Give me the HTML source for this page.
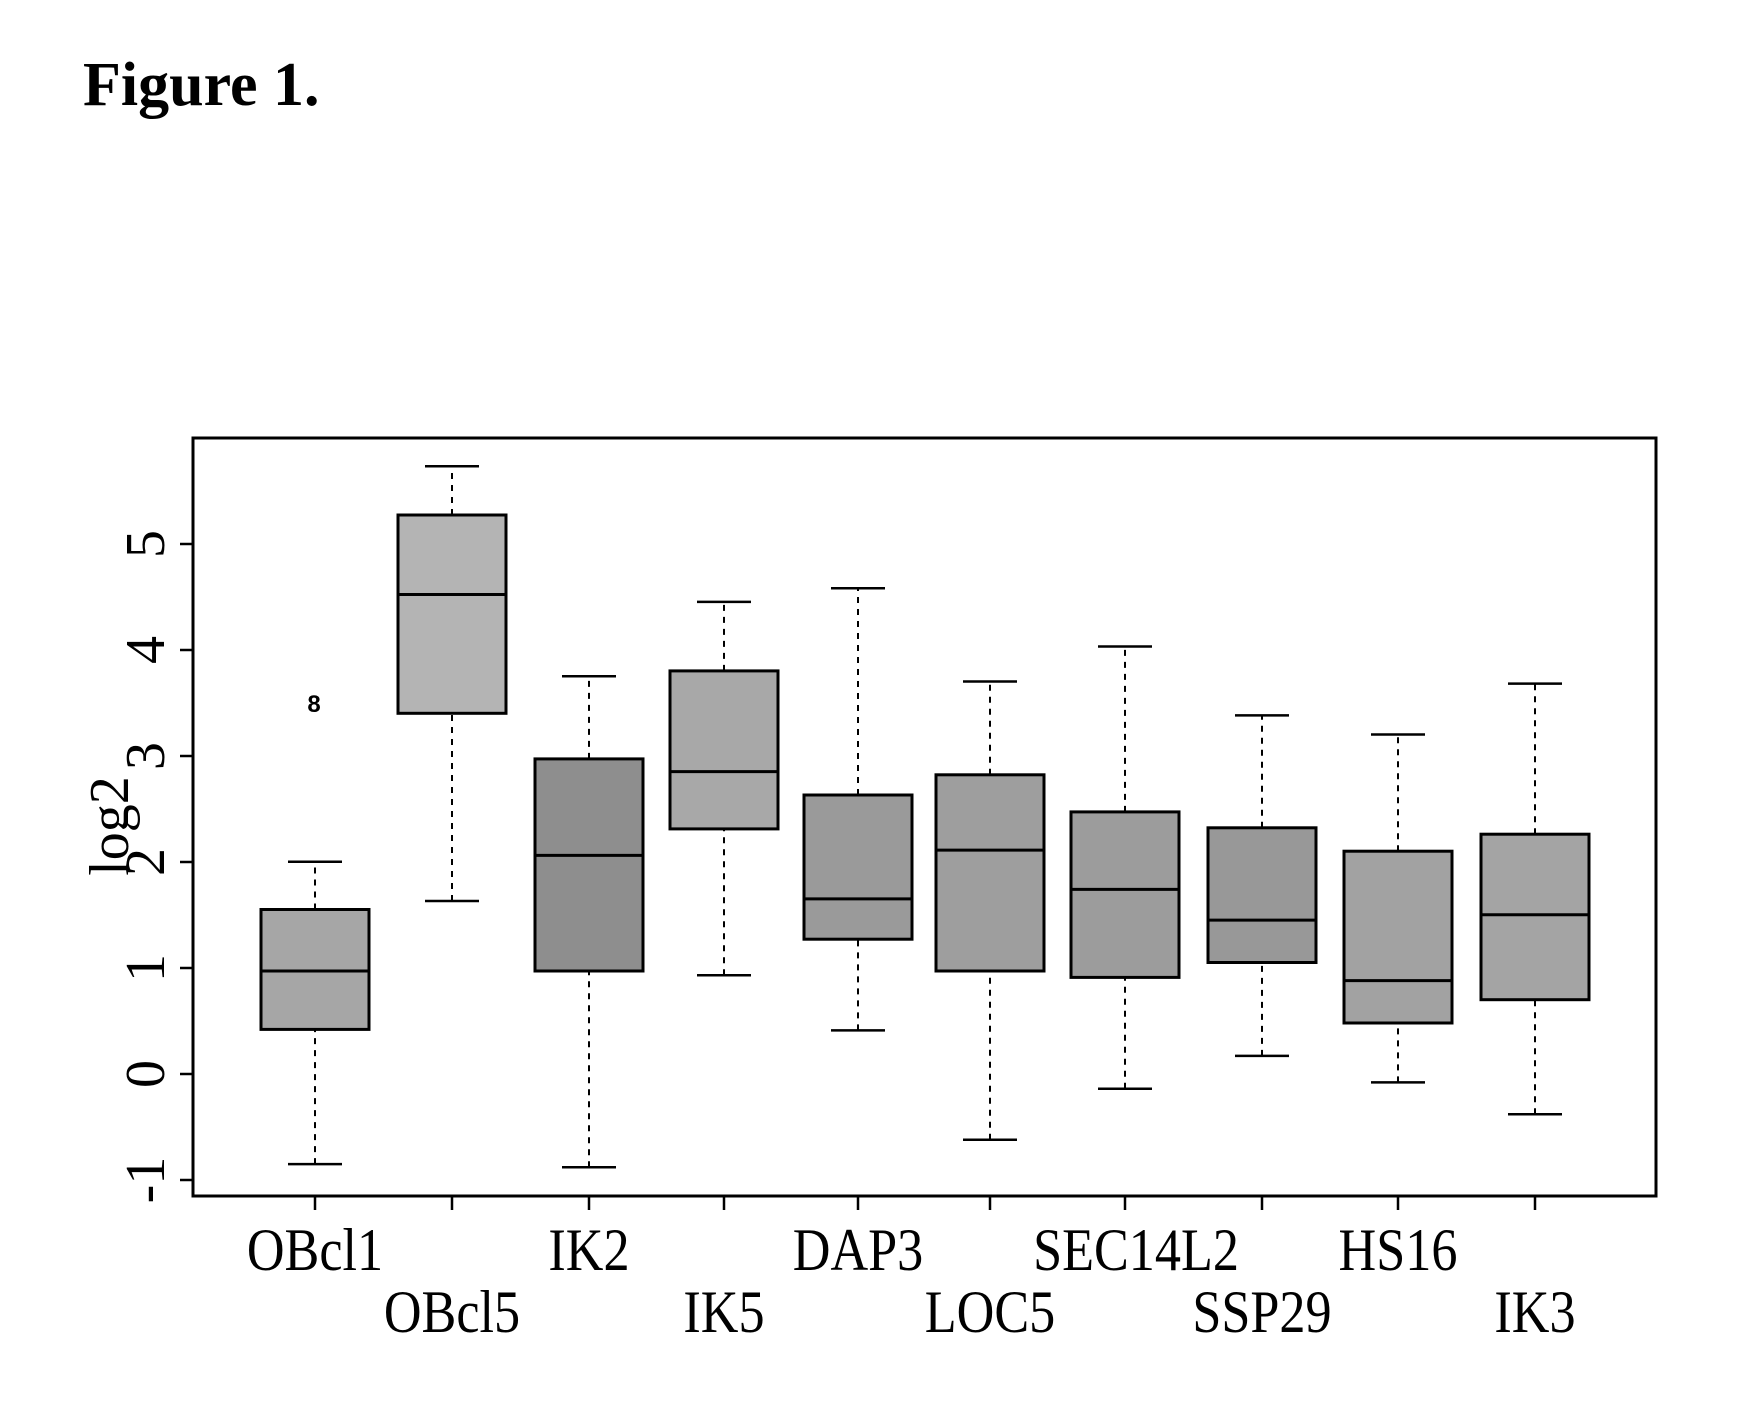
<!DOCTYPE html>
<html><head><meta charset="utf-8"><style>html,body{margin:0;padding:0;background:#fff}svg{display:block}</style></head>
<body>
<svg width="1745" height="1410" viewBox="0 0 1745 1410" xmlns="http://www.w3.org/2000/svg" font-family="'Liberation Serif', serif">
<text x="83" y="105" font-size="62" font-weight="bold">Figure 1.</text>
<rect x="193" y="438" width="1463" height="758" fill="none" stroke="#000" stroke-width="3"/>
<g stroke="#000" stroke-width="2.5">
<line x1="193" y1="1180" x2="193" y2="544"/>
<line x1="180" y1="1180" x2="193" y2="1180"/><line x1="180" y1="1074" x2="193" y2="1074"/><line x1="180" y1="968" x2="193" y2="968"/><line x1="180" y1="862" x2="193" y2="862"/><line x1="180" y1="756" x2="193" y2="756"/><line x1="180" y1="650" x2="193" y2="650"/><line x1="180" y1="544" x2="193" y2="544"/>
</g>
<g font-size="56" text-anchor="middle">
<text transform="translate(164,1180) rotate(-90)">-1</text>
<text transform="translate(164,1074) rotate(-90)">0</text>
<text transform="translate(164,968) rotate(-90)">1</text>
<text transform="translate(164,862) rotate(-90)">2</text>
<text transform="translate(164,756) rotate(-90)">3</text>
<text transform="translate(164,650) rotate(-90)">4</text>
<text transform="translate(164,544) rotate(-90)">5</text>
<text transform="translate(128,826) rotate(-90)">log2</text>
</g>
<text x="314" y="712" font-size="24" font-weight="bold" font-family="'Liberation Sans', sans-serif" text-anchor="middle">8</text>

<g stroke="#000">
<!-- whiskers (dashed) -->
<g stroke-width="2" stroke-dasharray="6,6">
<line x1="315" y1="1164.1" x2="315" y2="1029.4"/><line x1="315" y1="909.5" x2="315" y2="861.8"/>
<line x1="452" y1="901" x2="452" y2="713.3"/><line x1="452" y1="515" x2="452" y2="466.2"/>
<line x1="589" y1="1167.2" x2="589" y2="971"/><line x1="589" y1="758.9" x2="589" y2="676.2"/>
<line x1="724" y1="975.3" x2="724" y2="828.9"/><line x1="724" y1="670.9" x2="724" y2="601.9"/>
<line x1="858" y1="1030.4" x2="858" y2="939.2"/><line x1="858" y1="795" x2="858" y2="588.2"/>
<line x1="990" y1="1139.7" x2="990" y2="971"/><line x1="990" y1="774.8" x2="990" y2="681.5"/>
<line x1="1125" y1="1088.7" x2="1125" y2="977.4"/><line x1="1125" y1="811.9" x2="1125" y2="646.5"/>
<line x1="1262" y1="1055.9" x2="1262" y2="962.5"/><line x1="1262" y1="827.8" x2="1262" y2="715.4"/>
<line x1="1398" y1="1082.4" x2="1398" y2="1023"/><line x1="1398" y1="851.2" x2="1398" y2="734.5"/>
<line x1="1535" y1="1114.2" x2="1535" y2="999.7"/><line x1="1535" y1="834.2" x2="1535" y2="683.6"/>
</g>
<!-- caps -->
<g stroke-width="2.5">
<line x1="288" y1="1164.1" x2="342" y2="1164.1"/><line x1="288" y1="861.8" x2="342" y2="861.8"/>
<line x1="425" y1="901" x2="479" y2="901"/><line x1="425" y1="466.2" x2="479" y2="466.2"/>
<line x1="562" y1="1167.2" x2="616" y2="1167.2"/><line x1="562" y1="676.2" x2="616" y2="676.2"/>
<line x1="697" y1="975.3" x2="751" y2="975.3"/><line x1="697" y1="601.9" x2="751" y2="601.9"/>
<line x1="831" y1="1030.4" x2="885" y2="1030.4"/><line x1="831" y1="588.2" x2="885" y2="588.2"/>
<line x1="963" y1="1139.7" x2="1017" y2="1139.7"/><line x1="963" y1="681.5" x2="1017" y2="681.5"/>
<line x1="1098" y1="1088.7" x2="1152" y2="1088.7"/><line x1="1098" y1="646.5" x2="1152" y2="646.5"/>
<line x1="1235" y1="1055.9" x2="1289" y2="1055.9"/><line x1="1235" y1="715.4" x2="1289" y2="715.4"/>
<line x1="1371" y1="1082.4" x2="1425" y2="1082.4"/><line x1="1371" y1="734.5" x2="1425" y2="734.5"/>
<line x1="1508" y1="1114.2" x2="1562" y2="1114.2"/><line x1="1508" y1="683.6" x2="1562" y2="683.6"/>
</g>
<!-- boxes -->
<g stroke-width="3">
<rect x="261" y="909.5" width="108" height="119.9" fill="#a6a6a6"/>
<rect x="398" y="515" width="108" height="198.3" fill="#b4b4b4"/>
<rect x="535" y="758.9" width="108" height="212.1" fill="#8e8e8e"/>
<rect x="670" y="670.9" width="108" height="158" fill="#a8a8a8"/>
<rect x="804" y="795" width="108" height="144.2" fill="#9a9a9a"/>
<rect x="936" y="774.8" width="108" height="196.2" fill="#9e9e9e"/>
<rect x="1071" y="811.9" width="108" height="165.5" fill="#9c9c9c"/>
<rect x="1208" y="827.8" width="108" height="134.7" fill="#989898"/>
<rect x="1344" y="851.2" width="108" height="171.8" fill="#a2a2a2"/>
<rect x="1481" y="834.2" width="108" height="165.5" fill="#a4a4a4"/>
</g>
<!-- medians -->
<g stroke-width="3">
<line x1="261" y1="971" x2="369" y2="971"/>
<line x1="398" y1="594.5" x2="506" y2="594.5"/>
<line x1="535" y1="855.4" x2="643" y2="855.4"/>
<line x1="670" y1="771.6" x2="778" y2="771.6"/>
<line x1="804" y1="898.9" x2="912" y2="898.9"/>
<line x1="936" y1="850.1" x2="1044" y2="850.1"/>
<line x1="1071" y1="889.4" x2="1179" y2="889.4"/>
<line x1="1208" y1="920.1" x2="1316" y2="920.1"/>
<line x1="1344" y1="980.6" x2="1452" y2="980.6"/>
<line x1="1481" y1="914.8" x2="1589" y2="914.8"/>
</g>
</g>

<g font-size="60" text-anchor="middle">
<text transform="translate(315,1270) scale(0.87,1)">OBcl1</text>
<text transform="translate(452,1332) scale(0.87,1)">OBcl5</text>
<text transform="translate(589,1270) scale(0.87,1)">IK2</text>
<text transform="translate(724,1332) scale(0.87,1)">IK5</text>
<text transform="translate(858,1270) scale(0.87,1)">DAP3</text>
<text transform="translate(990,1332) scale(0.87,1)">LOC5</text>
<text transform="translate(1136,1270) scale(0.87,1)">SEC14L2</text>
<text transform="translate(1262,1332) scale(0.87,1)">SSP29</text>
<text transform="translate(1398,1270) scale(0.87,1)">HS16</text>
<text transform="translate(1535,1332) scale(0.87,1)">IK3</text>
</g>
<g stroke="#000" stroke-width="2.5">
<line x1="315" y1="1196" x2="315" y2="1210"/><line x1="452" y1="1196" x2="452" y2="1210"/><line x1="589" y1="1196" x2="589" y2="1210"/><line x1="724" y1="1196" x2="724" y2="1210"/><line x1="858" y1="1196" x2="858" y2="1210"/><line x1="990" y1="1196" x2="990" y2="1210"/><line x1="1125" y1="1196" x2="1125" y2="1210"/><line x1="1262" y1="1196" x2="1262" y2="1210"/><line x1="1398" y1="1196" x2="1398" y2="1210"/><line x1="1535" y1="1196" x2="1535" y2="1210"/>
</g>
</svg>
</body></html>
